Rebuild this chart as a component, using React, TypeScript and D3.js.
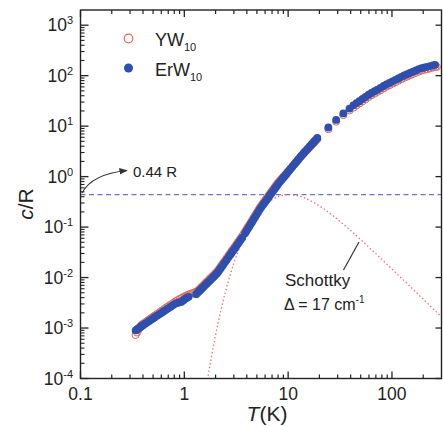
import React from 'react';
import * as d3 from 'd3';

const W = 443;
const H = 426;

// axis domains and tick labels
const xDomain: [number, number] = [0.1, 300];
const yDomain: [number, number] = [1e-4, 2000];
const xTickValues = [0.1, 1, 10, 100];
const xTickLabels = ['0.1', '1', '10', '100'];
const yTickExps = [-4, -3, -2, -1, 0, 1, 2, 3];

// ErW10 (filled blue) : [T (K), c/R]
const erwData: [number, number][] = [
  [0.34, 9.0e-4], [0.35, 9.4e-4], [0.36, 9.8e-4], [0.37, 1.02e-3], [0.38, 1.06e-3], [0.39, 1.1e-3],
  [0.40, 1.14e-3], [0.42, 1.22e-3], [0.44, 1.3e-3], [0.46, 1.38e-3], [0.48, 1.47e-3], [0.50, 1.55e-3],
  [0.52, 1.64e-3], [0.55, 1.77e-3], [0.58, 1.9e-3], [0.61, 2.04e-3], [0.64, 2.18e-3], [0.67, 2.32e-3],
  [0.70, 2.46e-3], [0.74, 2.65e-3], [0.78, 2.85e-3], [0.82, 3.05e-3], [0.86, 3.15e-3], [0.90, 3.25e-3],
  [0.94, 3.3e-3], [0.98, 3.55e-3], [1.02, 3.8e-3], [1.06, 4.0e-3], [1.10, 4.15e-3],
  [1.30, 4.69e-3], [1.34, 4.99e-3], [1.38, 5.3e-3], [1.42, 5.61e-3], [1.46, 5.94e-3], [1.50, 6.29e-3],
  [1.55, 6.73e-3], [1.60, 7.19e-3], [1.65, 7.65e-3], [1.70, 8.13e-3], [1.75, 8.63e-3], [1.80, 9.12e-3],
  [1.86, 9.78e-3], [1.92, 1.04e-2], [1.98, 1.11e-2], [2.05, 1.19e-2], [2.12, 1.31e-2], [2.19, 1.43e-2],
  [2.26, 1.57e-2], [2.33, 1.71e-2], [2.40, 1.87e-2], [2.48, 2.05e-2], [2.57, 2.28e-2], [2.67, 2.55e-2],
  [2.76, 2.8e-2], [2.85, 3.08e-2], [2.95, 3.4e-2], [3.05, 3.74e-2], [3.16, 4.17e-2], [3.27, 4.61e-2],
  [3.38, 5.07e-2], [3.50, 5.61e-2], [3.62, 6.21e-2],
  [3.85, 7.52e-2], [3.97, 8.38e-2], [4.10, 9.33e-2], [4.23, 0.103], [4.37, 0.115], [4.51, 0.128],
  [4.66, 0.143], [4.81, 0.159], [4.97, 0.177], [5.13, 0.197], [5.30, 0.22], [5.48, 0.244],
  [5.66, 0.267], [5.85, 0.293], [6.05, 0.323], [6.25, 0.353], [6.46, 0.387], [6.68, 0.427],
  [6.90, 0.468], [7.13, 0.512], [7.37, 0.564], [7.62, 0.618], [7.87, 0.676], [8.14, 0.743],
  [8.41, 0.805], [8.70, 0.879], [8.99, 0.953], [9.29, 1.03], [9.60, 1.12], [9.93, 1.22],
  [10.3, 1.34], [10.6, 1.44], [11.0, 1.58], [11.4, 1.73], [11.8, 1.89], [12.2, 2.05],
  [12.6, 2.22], [13.1, 2.45], [13.5, 2.64], [14.0, 2.87], [14.5, 3.11], [15.0, 3.36],
  [15.5, 3.61], [16.1, 3.95], [16.7, 4.3], [17.3, 4.65], [17.9, 5.03], [18.5, 5.41], [19.1, 5.82],
  [24.4, 9.4], [29.0, 13.3], [34.0, 17.9], [39.0, 22.3],
  [42.5, 25.9], [45.5, 28.6], [48.5, 31.3], [52, 34.5], [55.5, 37.8], [59.5, 41.9],
  [63.5, 45.5], [68, 49.3], [72.5, 53.1], [77.5, 57.4], [83, 62.4], [88.5, 67.3],
  [94.5, 71.9], [101, 77.1], [108, 82.6], [115, 88.3], [123, 94.8], [131, 101],
  [140, 107], [149, 113], [159, 120], [170, 127], [181, 135], [193, 141],
  [206, 145], [219, 150], [233, 155], [248, 160], [260, 164],
];

// YW10 (open red) : [T (K), c/R]
const ywData: [number, number][] = [
  [0.34, 7.3e-4], [0.35, 8.2e-4], [0.36, 9.1e-4], [0.37, 1.0e-3], [0.38, 1.1e-3], [0.39, 1.16e-3],
  [0.40, 1.21e-3], [0.42, 1.3e-3], [0.44, 1.39e-3], [0.46, 1.48e-3], [0.48, 1.58e-3], [0.50, 1.67e-3],
  [0.52, 1.77e-3], [0.55, 1.92e-3], [0.58, 2.07e-3], [0.61, 2.22e-3], [0.64, 2.38e-3], [0.67, 2.54e-3],
  [0.70, 2.7e-3], [0.74, 2.91e-3], [0.78, 3.13e-3], [0.82, 3.35e-3], [0.86, 3.55e-3], [0.90, 3.75e-3],
  [0.94, 3.92e-3], [0.98, 4.1e-3], [1.02, 4.3e-3], [1.06, 4.45e-3], [1.10, 4.6e-3], [1.15, 4.75e-3],
  [1.20, 4.9e-3], [1.25, 5.05e-3], [1.30, 5.25e-3], [1.34, 5.39e-3], [1.38, 5.72e-3], [1.42, 6.06e-3],
  [1.46, 6.42e-3], [1.50, 6.79e-3], [1.55, 7.27e-3], [1.60, 7.77e-3], [1.65, 8.26e-3], [1.70, 8.78e-3],
  [1.75, 9.32e-3], [1.80, 9.85e-3], [1.86, 1.06e-2], [1.92, 1.12e-2], [1.98, 1.2e-2], [2.05, 1.29e-2],
  [2.12, 1.41e-2], [2.19, 1.54e-2], [2.26, 1.7e-2], [2.33, 1.85e-2], [2.40, 2.02e-2], [2.48, 2.21e-2],
  [2.57, 2.46e-2], [2.67, 2.75e-2], [2.76, 3.02e-2], [2.85, 3.33e-2], [2.95, 3.67e-2], [3.05, 4.04e-2],
  [3.16, 4.5e-2], [3.27, 4.98e-2], [3.38, 5.48e-2], [3.50, 6.06e-2], [3.62, 6.71e-2], [3.74, 7.4e-2],
  [3.85, 8.12e-2], [3.97, 9.05e-2], [4.10, 0.101], [4.23, 0.111], [4.37, 0.124], [4.51, 0.138],
  [4.66, 0.154], [4.81, 0.172], [4.97, 0.191], [5.13, 0.213], [5.30, 0.238], [5.48, 0.263],
  [5.66, 0.288], [5.85, 0.316], [6.05, 0.349], [6.25, 0.381], [6.46, 0.418], [6.68, 0.461],
  [6.90, 0.505], [7.13, 0.553], [7.37, 0.609], [7.62, 0.667], [7.87, 0.73], [8.14, 0.795],
  [8.41, 0.853], [8.70, 0.923], [8.99, 0.995], [9.29, 1.07], [9.60, 1.15], [9.93, 1.25],
  [10.3, 1.36], [10.6, 1.46], [11.0, 1.59], [11.4, 1.73], [11.8, 1.89], [12.2, 2.04],
  [12.6, 2.2], [13.1, 2.42], [13.5, 2.6], [14.0, 2.81], [14.5, 3.03], [15.0, 3.27],
  [15.5, 3.5], [16.1, 3.81], [16.7, 4.13], [17.3, 4.46], [17.9, 4.8], [18.5, 5.15], [19.1, 5.52],
  [24.4, 8.7], [29.0, 12.3], [34.0, 16.6], [39.0, 20.6],
  [42.5, 23.3], [45.5, 25.7], [48.5, 28.2], [52, 31.0], [55.5, 34.0], [59.5, 37.7],
  [63.5, 41.0], [68, 44.4], [72.5, 47.8], [77.5, 51.7], [83, 56.2], [88.5, 60.6],
  [94.5, 64.7], [101, 69.4], [108, 74.3], [115, 79.5], [123, 85.3], [131, 91],
  [140, 96], [149, 102], [159, 108], [170, 114], [181, 121], [193, 127],
  [206, 131], [219, 135], [233, 140], [248, 145], [262, 149], [270, 150],
];

// Schottky anomaly curve, Delta = 17 cm^-1 : [T (K), c/R]
const schottkyData: [number, number][] = [
  [1.65, 8.0e-5], [1.8, 2.31e-4], [2.0, 7.3e-4], [2.25, 2.25e-3], [2.5, 5.4e-3], [2.75, 1.08e-2],
  [3.0, 1.91e-2], [3.5, 4.49e-2], [4.0, 8.23e-2], [4.5, 0.1277], [5, 0.1766], [6, 0.2724],
  [7, 0.3496], [8, 0.401], [9, 0.429], [10, 0.4388], [11, 0.4358], [12, 0.4237],
  [14, 0.3858], [17, 0.3208], [20, 0.2628], [25, 0.1903], [30, 0.1414], [40, 0.0853],
  [50, 0.05636], [70, 0.02961], [100, 0.01474], [150, 0.00661], [200, 0.003735], [300, 0.00166],
];

const levelValue = 0.44;

const seriesNames = ['YW', 'ErW'];
const seriesSub = '10';

const FONT = '"Liberation Sans", Arial, Helvetica, sans-serif';
const TXT = '#222';
const BLUE = '#2f4fae';
const RED = '#e2685a';

export default function App() {
  const L = 80.5, R = 441.5, T = 10, B = 378.5;
  const x = d3.scaleLog().domain(xDomain).range([L, R]);
  const y = d3.scaleLog().domain(yDomain).range([B, T]);

  const line = d3
    .line<[number, number]>()
    .x((d) => x(d[0]))
    .y((d) => y(d[1]))
    .curve(d3.curveMonotoneX);

  // tick positions
  const xMinor: number[] = [];
  for (let e = -1; e <= 2; e++) {
    for (let k = 2; k <= 9; k++) {
      const v = k * Math.pow(10, e);
      if (v < xDomain[1]) xMinor.push(v);
    }
  }
  const yMinor: number[] = [];
  for (let e = -4; e <= 3; e++) {
    for (let k = 2; k <= 9; k++) {
      const v = k * Math.pow(10, e);
      if (v < yDomain[1]) yMinor.push(v);
    }
  }

  const yLev = y(levelValue);

  return (
    <svg
      width={W}
      height={H}
      style={{ position: 'absolute', left: 0, top: 0, background: '#fff' }}
      fontFamily={FONT}
    >
      <defs>
        <clipPath id="plotclip">
          <rect x={L} y={T} width={R - L} height={B - T} />
        </clipPath>
        <marker id="arrow" viewBox="0 0 10 10" refX="9" refY="5" markerWidth="7" markerHeight="7" orient="auto">
          <path d="M0,1 L10,5 L0,9 z" fill="#333" />
        </marker>
      </defs>
      <rect x={0} y={0} width={W} height={H} fill="#fff" />

      <g clipPath="url(#plotclip)">
        {/* 0.44 R level */}
        <line x1={L} x2={R} y1={yLev} y2={yLev} stroke="#6f72d2" strokeWidth={1.3} strokeDasharray="5 3.5" />
        {/* Schottky curve */}
        <path d={line(schottkyData) || ''} fill="none" stroke="#e86a6e" strokeWidth={1.3} strokeDasharray="1.4 2.4" />
        {/* YW10 open circles */}
        {ywData.map((d, i) => (
          <circle key={'y' + i} cx={x(d[0])} cy={y(d[1])} r={3.6} fill="none" stroke={RED} strokeWidth={1} />
        ))}
        {/* ErW10 filled circles */}
        {erwData.map((d, i) => (
          <circle key={'e' + i} cx={x(d[0])} cy={y(d[1])} r={3.9} fill={BLUE} />
        ))}
      </g>

      {/* frame */}
      <rect x={L} y={T} width={R - L} height={B - T} fill="none" stroke="#222" strokeWidth={1.4} />

      {/* bottom & top ticks */}
      {xTickValues.map((v) => (
        <g key={'xm' + v}>
          <line x1={x(v)} x2={x(v)} y1={B} y2={B - 7} stroke="#222" strokeWidth={1.3} />
          <line x1={x(v)} x2={x(v)} y1={T} y2={T + 7} stroke="#222" strokeWidth={1.3} />
        </g>
      ))}
      {xMinor.map((v) => (
        <g key={'xn' + v}>
          <line x1={x(v)} x2={x(v)} y1={B} y2={B - 4} stroke="#222" strokeWidth={1.2} />
          <line x1={x(v)} x2={x(v)} y1={T} y2={T + 4} stroke="#222" strokeWidth={1.2} />
        </g>
      ))}
      {/* left & right ticks */}
      {yTickExps.map((e) => {
        const v = Math.pow(10, e);
        return (
          <g key={'ym' + e}>
            <line x1={L} x2={L + 8} y1={y(v)} y2={y(v)} stroke="#222" strokeWidth={1.3} />
            <line x1={R} x2={R - 6} y1={y(v)} y2={y(v)} stroke="#222" strokeWidth={1.3} />
          </g>
        );
      })}
      {yMinor.map((v) => (
        <line key={'yn' + v} x1={L} x2={L + 4} y1={y(v)} y2={y(v)} stroke="#222" strokeWidth={1.1} />
      ))}

      {/* tick labels */}
      {xTickValues.map((v, i) => (
        <text key={'xl' + v} x={x(v)} y={400} fontSize={17.5} textAnchor="middle" fill={TXT}>
          {xTickLabels[i]}
        </text>
      ))}
      {yTickExps.map((e) => (
        <text key={'yl' + e} x={73} y={y(Math.pow(10, e)) + 6} fontSize={17.5} textAnchor="end" fill={TXT}>
          10
          <tspan dy={-7} fontSize={11}>
            {e < 0 ? '-' + Math.abs(e) : String(e)}
          </tspan>
        </text>
      ))}

      {/* axis titles */}
      <text transform="translate(33,204) rotate(-90)" fontSize={21} textAnchor="middle" fill={TXT}>
        <tspan fontStyle="italic">c</tspan>/R
      </text>
      <text x={267} y={421} fontSize={21} textAnchor="middle" fill={TXT}>
        <tspan fontStyle="italic">T</tspan>(K)
      </text>

      {/* legend */}
      <circle cx={128.5} cy={38.5} r={4.3} fill="none" stroke={RED} strokeWidth={1.2} />
      <text x={155} y={46} fontSize={18} fill={TXT}>
        {seriesNames[0]}
        <tspan dy={5} fontSize={11}>{seriesSub}</tspan>
      </text>
      <circle cx={128.5} cy={68} r={4.5} fill={BLUE} />
      <text x={155} y={76} fontSize={18} fill={TXT}>
        {seriesNames[1]}
        <tspan dy={5} fontSize={11}>{seriesSub}</tspan>
      </text>

      {/* 0.44 R annotation */}
      <path d="M82,193 Q92,174 127,170.5" fill="none" stroke="#333" strokeWidth={1.2} markerEnd="url(#arrow)" />
      <text x={133} y={177} fontSize={15} fill={TXT}>0.44 R</text>

      {/* Schottky annotation */}
      <line x1={343.5} y1={270} x2={359} y2={242} stroke="#333" strokeWidth={1.2} />
      <text x={285} y={286} fontSize={17} fill={TXT}>Schottky</text>
      <text x={284} y={310} fontSize={16} fill={TXT}>
        Δ = 17 cm<tspan dy={-7} fontSize={10}>-1</tspan>
      </text>
    </svg>
  );
}
